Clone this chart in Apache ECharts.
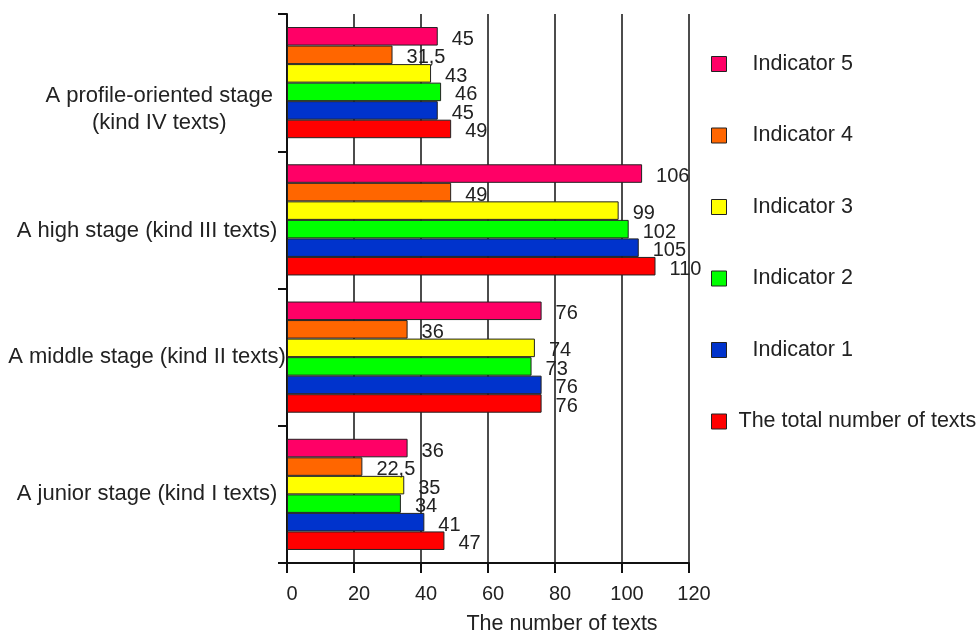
<!DOCTYPE html>
<html>
<head>
<meta charset="utf-8">
<script src="https://cdn.jsdelivr.net/npm/echarts@6/dist/echarts.min.js"></script>
<style>html,body{margin:0;padding:0;background:#fff}#c{width:979px;height:635px}</style>
</head>
<body>
<div id="c"></div>
<script>
// Categories from bottom to top
var categories = ['A junior stage (kind I texts)', 'A middle stage (kind II texts)', 'A high stage (kind III texts)', 'A profile-oriented stage\n(kind IV texts)'];
var seriesNames = ['Indicator 5', 'Indicator 4', 'Indicator 3', 'Indicator 2', 'Indicator 1', 'The total number of texts'];
var indicator5 = [36, 76, 106, 45];
var indicator4 = [22.5, 36, 49, 31.5];
var indicator3 = [35, 74, 99, 43];
var indicator2 = [34, 73, 102, 46];
var indicator1 = [41, 76, 105, 45];
var totalTexts = [47, 76, 110, 49];
var xTicks = [0, 20, 40, 60, 80, 100, 120];
var colors = ['#FF0066', '#FF6600', '#FFFF00', '#00FF00', '#0033CC', '#FF0000'];

var seriesData = [indicator5, indicator4, indicator3, indicator2, indicator1, totalTexts];
var FONT = 'Liberation Sans, Arial, sans-serif';
var TXT = '#222';

var series = seriesNames.map(function (name, i) {
  return {
    name: name,
    type: 'bar',
    data: seriesData[i],
    barGap: '0%',
    barCategoryGap: '19%',
    itemStyle: { color: colors[i], borderColor: '#222', borderWidth: 1 },
    label: {
      show: true,
      position: 'right',
      distance: 14,
      offset: [0, 3],
      color: TXT,
      fontFamily: FONT,
      fontSize: 20,
      formatter: function (p) { return String(p.value).replace('.', ','); }
    }
  };
});

var chart = echarts.init(document.getElementById('c'), null, { renderer: 'canvas' });
chart.setOption({
  animation: false,
  backgroundColor: '#fff',
  textStyle: { fontFamily: FONT },
  grid: { left: 287, right: 290, top: 14, bottom: 72, containLabel: false, outerBoundsMode: 'none' },
  legend: {
    orient: 'vertical',
    left: 706,
    top: 48,
    itemWidth: 15,
    itemHeight: 15,
    itemGap: 49.5,
    icon: 'rect',
    itemStyle: { borderColor: '#222', borderWidth: 1 },
    textStyle: { fontFamily: FONT, fontSize: 21.5, color: TXT, rich: {
      a: { fontFamily: FONT, fontSize: 21.5, color: TXT, padding: [0, 0, 0, 21] },
      b: { fontFamily: FONT, fontSize: 21.5, color: TXT, padding: [0, 0, 0, 7] }
    } },
    formatter: function (n) { return n.indexOf('Indicator') === 0 ? '{a|' + n + '}' : '{b|' + n + '}'; },
    data: seriesNames
  },
  xAxis: {
    type: 'value',
    min: xTicks[0],
    max: xTicks[xTicks.length - 1],
    interval: xTicks[1] - xTicks[0],
    name: 'The number of texts',
    nameLocation: 'middle',
    nameGap: 50,
    nameTextStyle: { fontFamily: FONT, fontSize: 21.5, color: TXT, padding: [0, 0, 0, 148] },
    axisLine: { show: true, lineStyle: { color: '#111', width: 2 } },
    axisTick: { show: true, length: 10, lineStyle: { color: '#111', width: 2 } },
    axisLabel: { fontFamily: FONT, fontSize: 20, color: TXT, margin: 21, padding: [0, 0, 0, 10] },
    splitLine: { show: true, lineStyle: { color: '#111', width: 1.5 } }
  },
  yAxis: {
    type: 'category',
    data: categories,
    axisLine: { show: true, lineStyle: { color: '#111', width: 2 } },
    axisTick: { show: true, length: 9, lineStyle: { color: '#111', width: 2 } },
    axisLabel: {
      fontFamily: FONT, fontSize: 22, color: TXT, margin: 140, align: 'center', lineHeight: 27,
      formatter: function (v, idx) {
        if (idx === 3) {
          var parts = v.split('\n');
          return '\n\n    ' + parts[0] + '\n    ' + parts[1];
        }
        if (idx === 2) return '{h|' + v + '}';
        return v;
      },
      rich: {
        h: { fontFamily: FONT, fontSize: 22, color: TXT, padding: [23, 0, 0, 0] }
      }
    },
    splitLine: { show: false }
  },
  series: series
});
</script>
</body>
</html>
